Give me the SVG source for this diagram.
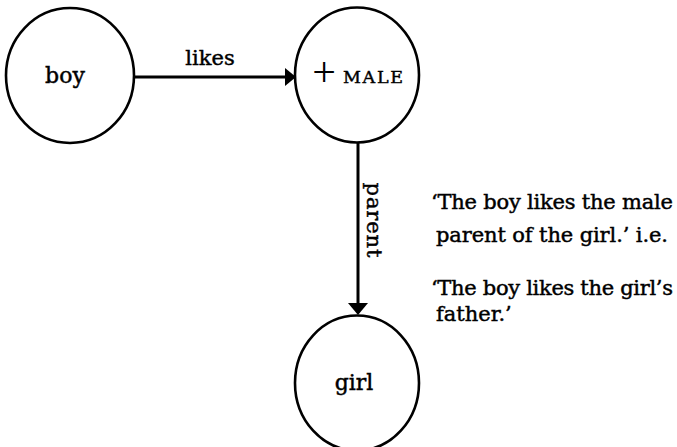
<svg xmlns="http://www.w3.org/2000/svg" width="677" height="447" viewBox="0 0 677 447">
<defs>
<style>
.node{fill:#fff;stroke:#000;stroke-width:2.6}
.lbl{font-family:"DejaVu Serif","Liberation Serif",serif;fill:#000;stroke:#000;stroke-width:0.45}
.edge{stroke:#000;stroke-width:3;fill:none}
.head{fill:#000}
</style>
</defs>
<rect width="677" height="447" fill="#fff"/>
<g id="connectors">
<line class="edge" x1="133" y1="77" x2="286" y2="77"/>
<polygon class="head" points="296,77 285,68 285,86"/>
<text class="lbl" x="210" y="65" font-size="21" text-anchor="middle">likes</text>
<line class="edge" x1="358" y1="143" x2="358" y2="306"/>
<polygon class="head" points="358,315 348,303 368,303"/>
<text class="lbl" font-size="21" text-anchor="middle" textLength="75" transform="translate(367,220) rotate(90)">parent</text>
</g>
<g id="node-boy">
<ellipse class="node" cx="70" cy="75.5" rx="64" ry="67.5"/>
<text class="lbl" x="65" y="83" font-size="22" text-anchor="middle">boy</text>
</g>
<g id="node-male">
<ellipse class="node" cx="357" cy="75" rx="62" ry="67.5"/>
<text x="324" y="86" font-family="'Liberation Serif',serif" font-size="42" text-anchor="middle">+</text>
<text class="lbl" x="343" y="83" font-size="17.5" textLength="60" lengthAdjust="spacing">MALE</text>
</g>
<g id="node-girl">
<ellipse class="node" cx="357" cy="383" rx="62" ry="67.5"/>
<text class="lbl" x="354" y="390" font-size="22" text-anchor="middle">girl</text>
</g>
<g id="caption" class="lbl" font-size="21">
<text x="431" y="209" textLength="242" lengthAdjust="spacing">‘The boy likes the male</text>
<text x="436" y="242" textLength="232" lengthAdjust="spacing">parent of the girl.’ i.e.</text>
<text x="431" y="295" textLength="242" lengthAdjust="spacing">‘The boy likes the girl’s</text>
<text x="436" y="321">father.’</text>
</g>
</svg>
